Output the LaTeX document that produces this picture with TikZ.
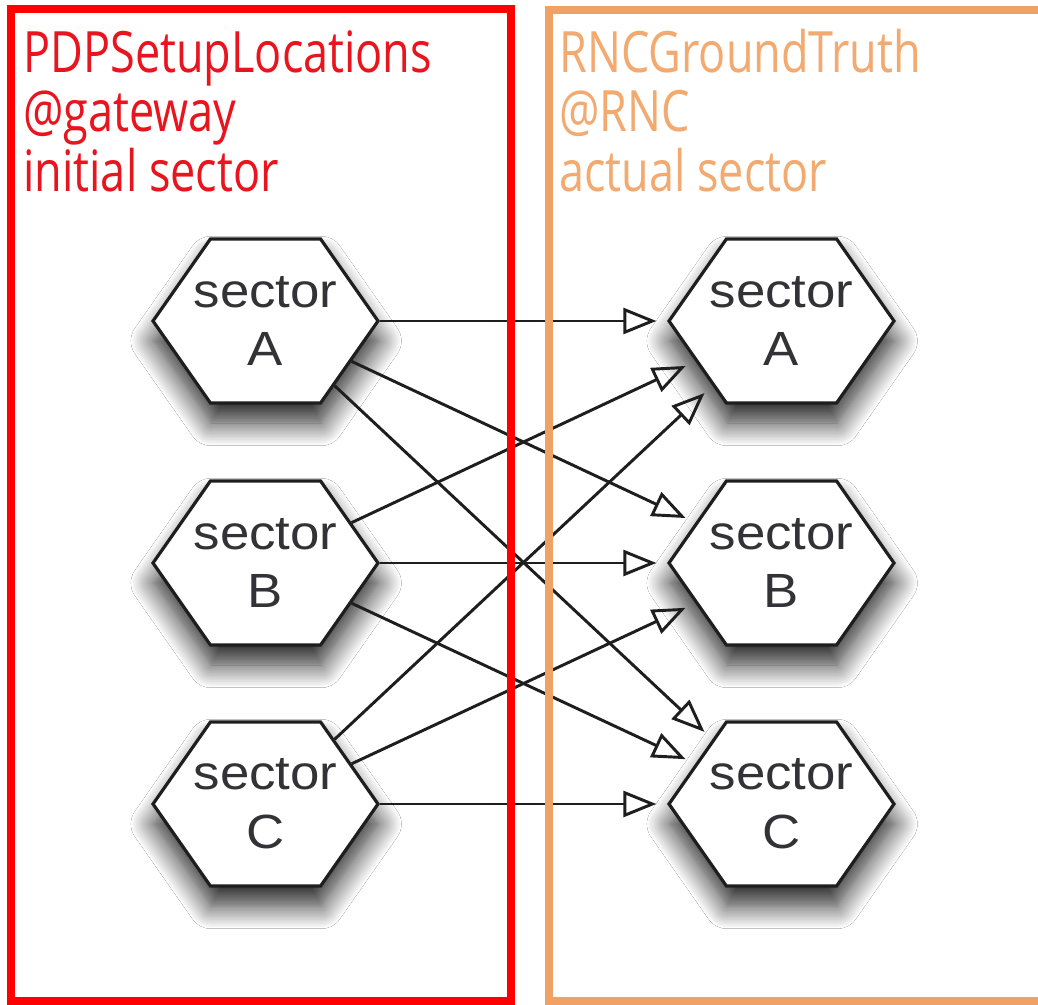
\documentclass[tikz,border=0pt]{standalone}
\usepackage{fontspec}
\usetikzlibrary{shapes.symbols,arrows.meta,shadows.blur}
\newfontfamily\titlefont{Open Sans}[FakeStretch=0.79]
\newfontfamily\hexfont{Liberation Sans}[FakeStretch=1.1]
\definecolor{boxred}{RGB}{255,0,0}
\definecolor{txtred}{RGB}{232,20,30}
\definecolor{boxorange}{RGB}{240,162,100}
\definecolor{txtorange}{RGB}{242,170,112}
\definecolor{ink}{RGB}{30,30,30}
\definecolor{hextext}{RGB}{50,50,55}
\begin{document}
\begin{tikzpicture}[x=0.75pt,y=-0.75pt,
  hexa/.style={signal, signal to=west and east, signal pointer angle=110,
    minimum width=168.75pt, minimum height=123pt, inner sep=0pt,
    draw=ink, line width=2.4pt, fill=white,
    blur shadow={shadow xshift=0.5pt, shadow yshift=-15pt, shadow blur radius=17pt,
      shadow blur steps=16, shadow opacity=85}},
  hexlabel/.style={align=center, font=\hexfont\fontsize{36pt}{44pt}\selectfont, text=hextext, inner sep=0pt},
  conn/.style={draw=ink, line width=2.2pt, -{Triangle[open, length=24.75pt, width=19.5pt]}, shorten >=8pt},
  titlebase/.style={anchor=base west, inner sep=0pt, font=\titlefont\fontsize{42.75pt}{51pt}\selectfont},
  titlered/.style={titlebase, text=txtred},
  titleorange/.style={titlebase, text=txtorange},
  frame/.style={line width=6pt}
]
\useasboundingbox (0,0) rectangle (1038,1005);
\clip (0,0) rectangle (1038,1005);
\fill[white] (0,0) rectangle (1038,1005);

% hexagons
\node[hexa, label={[hexlabel, name=LAt]center:sector\\A}] (LA) at (265.5,321) {};
\node[hexa, label={[hexlabel, name=LBt]center:sector\\B}] (LB) at (265.5,563) {};
\node[hexa, label={[hexlabel, name=LCt]center:sector\\C}] (LC) at (265.5,804) {};
\node[hexa, label={[hexlabel, name=RAt]center:sector\\A}] (RA) at (781.5,321) {};
\node[hexa, label={[hexlabel, name=RBt]center:sector\\B}] (RB) at (781.5,563) {};
\node[hexa, label={[hexlabel, name=RCt]center:sector\\C}] (RC) at (781.5,804) {};

% connectors
\foreach \s in {LA,LB,LC}{
  \foreach \t in {RA,RB,RC}{
    \draw[conn] (\s) -- (\t);
  }
}

% titles
\node[titlered] (l1) at (23,73) {PDPSetupLocations};
\node[titlered] (l2) at (23,132) {@gateway};
\node[titlered] (l3) at (23,192) {initial sector};
\node[titleorange] (r1) at (559,73) {RNCGroundTruth};
\node[titleorange] (r2) at (559,132) {@RNC};
\node[titleorange] (r3) at (559,192) {actual sector};

% frames
\draw[frame, boxred] (11,9) rectangle (511,1001);
\draw[frame, boxorange] (549,10) rectangle (1050,1001);
\end{tikzpicture}
\end{document}
